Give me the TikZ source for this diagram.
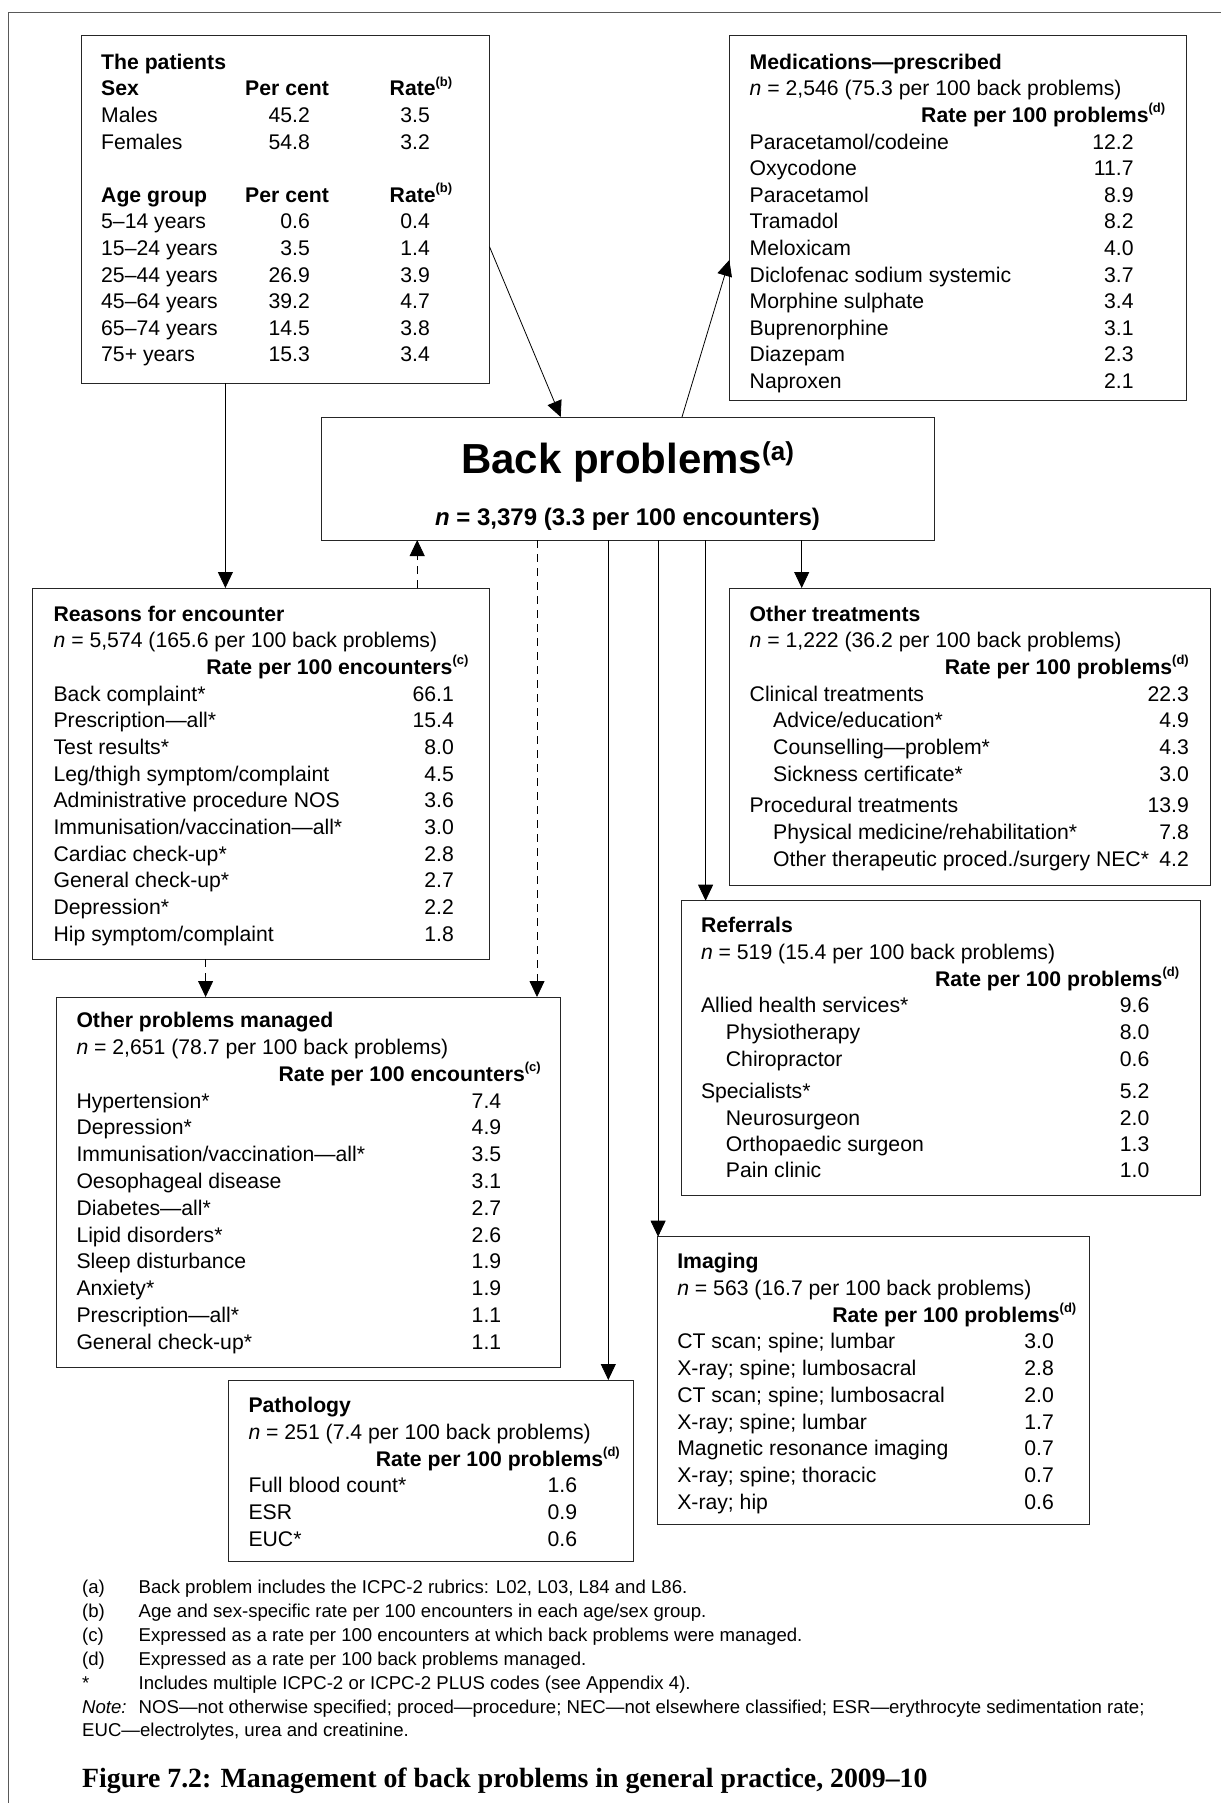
\documentclass[tikz,border=0pt]{standalone}
\usepackage{fontspec}
\setmainfont{Liberation Sans}
\newfontfamily\capfont{Liberation Serif}
\usetikzlibrary{arrows.meta}

\newcommand{\fs}{\fontsize{21.2}{25}\selectfont}
\newcommand{\fnsz}{\fontsize{18.6}{22}\selectfont}
\newcommand{\sps}[1]{\raisebox{9.5pt}{\fontsize{13}{13}\selectfont\bfseries #1}}

\tikzset{
  box/.style={draw=black!85, line width=1pt, fill=white, anchor=north west, inner sep=0pt, outer sep=0pt},
  lt/.style={anchor=base west, inner sep=0pt, font=\fs},
  rt/.style={anchor=base east, inner sep=0pt, font=\fs},
  hd/.style={anchor=base west, inner sep=0pt, font=\fs\bfseries},
  hdr/.style={anchor=base east, inner sep=0pt, font=\fs\bfseries},
  arr/.style={draw=black, line width=0.8pt, -{Triangle[width=15pt,length=16pt]}},
  darr/.style={arr, dash pattern=on 8pt off 6pt},
  fn/.style={anchor=base west, inner sep=0pt, font=\fnsz},
  frame/.style={draw=black!65, line width=1.3pt},
}

\begin{document}
\begin{tikzpicture}[x=1pt,y=-1pt]
\fill[white] (0,0) rectangle (1220,1803);
\useasboundingbox (0,0) rectangle (1220,1803);
\draw[frame] (1222,12.3) -- (8.7,12.3) -- (8.7,1805);

% ---------- boxes ----------
\node[box, minimum width=408.5pt, minimum height=347pt] (pat) at (81,36) {};
\node[box, minimum width=456.7pt, minimum height=364pt] (med) at (729.3,36) {};
\node[box, minimum width=613pt, minimum height=123pt] (back) at (321,417) {};
\node[box, minimum width=456.7pt, minimum height=371pt] (rfe) at (32.8,588) {};
\node[box, minimum width=480.7pt, minimum height=297pt] (treat) at (729.3,588) {};
\node[box, minimum width=504.2pt, minimum height=370pt] (oth) at (56.5,997) {};
\node[box, minimum width=519pt, minimum height=294.3pt] (ref) at (681,900.7) {};
\node[box, minimum width=432.2pt, minimum height=287.6pt] (img) at (657.3,1236.7) {};
\node[box, minimum width=405.1pt, minimum height=181.7pt] (path) at (228.5,1380) {};

% ---------- connectors ----------
\draw[arr] ([yshift=-37.2pt]pat.east) -- ([xshift=239.7pt]back.north west);
\draw[arr] ([xshift=361pt]back.north west) -- ([yshift=-42pt]med.west);
\draw[arr] ([xshift=144.4pt]pat.south west) -- ([xshift=192.6pt]rfe.north west);
\draw[darr] ([xshift=384.4pt]rfe.north west) -- ([xshift=96.2pt]back.south west);
\draw[darr] ([xshift=216pt]back.south west) -- ([xshift=480.5pt]oth.north west);
\draw[darr] ([xshift=172.8pt]rfe.south west) -- ([xshift=149.1pt]oth.north west);
\draw[arr] ([xshift=480.7pt]back.south west) -- ([xshift=72.4pt]treat.north west);
\draw[arr] ([xshift=384.6pt]back.south west) -- ([xshift=24.6pt]ref.north west);
\draw[arr] ([xshift=337.1pt]back.south west) -- ([xshift=0.8pt]img.north west);
\draw[arr] ([xshift=287.3pt]back.south west) -- ([xshift=379.8pt]path.north west);

% ---------- back problems ----------
\node[anchor=base, inner sep=0pt, font=\fontsize{42}{46}\selectfont\bfseries] (back-t) at (627.5,473)
  {Back problems\raisebox{13pt}{\fontsize{26}{26}\selectfont (a)}};
\node[anchor=base, inner sep=0pt, font=\fontsize{24}{28}\selectfont\bfseries] (back-n) at (627.5,525.3)
  {\textit{n} = 3,379 (3.3 per 100 encounters)};

% ---------- the patients ----------
\node[hd] (pat-t) at (101,69.3) {The patients};
\node[hd] (pat-s) at (101,95.9) {Sex};
\node[hd] (pat-sp) at (245,95.9) {Per cent};
\node[hd] (pat-sr) at (389.5,95.9) {Rate\sps{(b)}};
\foreach \a/\b/\c [count=\i] in {Males/45.2/3.5, Females/54.8/3.2} {
  \node[lt] (pat-a\i) at (101,{95.9+26.6*\i}) {\a};
  \node[rt] (pat-b\i) at (310,{95.9+26.6*\i}) {\b};
  \node[rt] (pat-c\i) at (430,{95.9+26.6*\i}) {\c};
}
\node[hd] (pat-g) at (101,202.3) {Age group};
\node[hd] (pat-gp) at (245,202.3) {Per cent};
\node[hd] (pat-gr) at (389.5,202.3) {Rate\sps{(b)}};
\foreach \a/\b/\c [count=\i] in {5–14 years/0.6/0.4, 15–24 years/3.5/1.4, 25–44 years/26.9/3.9,
   45–64 years/39.2/4.7, 65–74 years/14.5/3.8, 75+ years/15.3/3.4} {
  \node[lt] (pat-d\i) at (101,{202.3+26.6*\i}) {\a};
  \node[rt] (pat-e\i) at (310,{202.3+26.6*\i}) {\b};
  \node[rt] (pat-f\i) at (430,{202.3+26.6*\i}) {\c};
}

% ---------- medications ----------
\node[hd] (med-t) at (749.5,69.3) {Medications—prescribed};
\node[lt] (med-n) at (749.5,95.9) {\textit{n} = 2,546 (75.3 per 100 back problems)};
\node[hdr] (med-h) at (1165.4,122.5) {Rate per 100 problems\sps{(d)}};
\foreach \a/\b [count=\i] in {{Paracetamol/codeine}/12.2, Oxycodone/11.7, Paracetamol/8.9, Tramadol/8.2,
   Meloxicam/4.0, Diclofenac sodium systemic/3.7, Morphine sulphate/3.4, Buprenorphine/3.1,
   Diazepam/2.3, Naproxen/2.1} {
  \node[lt] (med-a\i) at (749.5,{149.1+26.6*(\i-1)}) {\a};
  \node[rt] (med-b\i) at (1133.8,{149.1+26.6*(\i-1)}) {\b};
}

% ---------- reasons for encounter ----------
\node[hd] (rfe-t) at (53.4,621) {Reasons for encounter};
\node[lt] (rfe-n) at (53.4,647.7) {\textit{n} = 5,574 (165.6 per 100 back problems)};
\node[hdr] (rfe-h) at (468.6,674.3) {Rate per 100 encounters\sps{(c)}};
\foreach \a/\b [count=\i] in {Back complaint*/66.1, Prescription—all*/15.4, Test results*/8.0,
   {Leg/thigh symptom/complaint}/4.5, Administrative procedure NOS/3.6,
   {Immunisation/vaccination—all*}/3.0, Cardiac check-up*/2.8, General check-up*/2.7,
   Depression*/2.2, {Hip symptom/complaint}/1.8} {
  \node[lt] (rfe-a\i) at (53.4,{701+26.67*(\i-1)}) {\a};
  \node[rt] (rfe-b\i) at (454,{701+26.67*(\i-1)}) {\b};
}

% ---------- other problems managed ----------
\node[hd] (oth-t) at (76.3,1027.6) {Other problems managed};
\node[lt] (oth-n) at (76.3,1054.4) {\textit{n} = 2,651 (78.7 per 100 back problems)};
\node[hdr] (oth-h) at (541,1081.2) {Rate per 100 encounters\sps{(c)}};
\foreach \a/\b [count=\i] in {Hypertension*/7.4, Depression*/4.9, {Immunisation/vaccination—all*}/3.5,
   Oesophageal disease/3.1, Diabetes—all*/2.7, Lipid disorders*/2.6, Sleep disturbance/1.9,
   Anxiety*/1.9, Prescription—all*/1.1, General check-up*/1.1} {
  \node[lt] (oth-a\i) at (76.3,{1108+26.8*(\i-1)}) {\a};
  \node[rt] (oth-b\i) at (501.4,{1108+26.8*(\i-1)}) {\b};
}

% ---------- other treatments ----------
\node[hd] (tr-t) at (749.5,621) {Other treatments};
\node[lt] (tr-n) at (749.5,647.7) {\textit{n} = 1,222 (36.2 per 100 back problems)};
\node[hdr] (tr-h) at (1189,674.3) {Rate per 100 problems\sps{(d)}};
\node[lt] (tr-a1) at (749.5,701) {Clinical treatments};       \node[rt] (tr-b1) at (1189,701) {22.3};
\node[lt] (tr-a2) at (773,727.7) {Advice/education*};          \node[rt] (tr-b2) at (1189,727.7) {4.9};
\node[lt] (tr-a3) at (773,754.4) {Counselling—problem*};       \node[rt] (tr-b3) at (1189,754.4) {4.3};
\node[lt] (tr-a4) at (773,781) {Sickness certificate*};        \node[rt] (tr-b4) at (1189,781) {3.0};
\node[lt] (tr-a5) at (749.5,812.6) {Procedural treatments};    \node[rt] (tr-b5) at (1189,812.6) {13.9};
\node[lt] (tr-a6) at (773,839.3) {Physical medicine/rehabilitation*}; \node[rt] (tr-b6) at (1189,839.3) {7.8};
\node[lt] (tr-a7) at (773,866) {Other therapeutic proced./surgery NEC*}; \node[rt] (tr-b7) at (1189,866) {4.2};

% ---------- referrals ----------
\node[hd] (ref-t) at (700.8,932.6) {Referrals};
\node[lt] (ref-n) at (700.8,959.3) {\textit{n} = 519 (15.4 per 100 back problems)};
\node[hdr] (ref-h) at (1179.3,986) {Rate per 100 problems\sps{(d)}};
\node[lt] (ref-a1) at (700.8,1012.6) {Allied health services*}; \node[rt] (ref-b1) at (1149.6,1012.6) {9.6};
\node[lt] (ref-a2) at (725.7,1039.3) {Physiotherapy};           \node[rt] (ref-b2) at (1149.6,1039.3) {8.0};
\node[lt] (ref-a3) at (725.7,1066) {Chiropractor};             \node[rt] (ref-b3) at (1149.6,1066) {0.6};
\node[lt] (ref-a4) at (700.8,1098.6) {Specialists*};           \node[rt] (ref-b4) at (1149.6,1098.6) {5.2};
\node[lt] (ref-a5) at (725.7,1125) {Neurosurgeon};             \node[rt] (ref-b5) at (1149.6,1125) {2.0};
\node[lt] (ref-a6) at (725.7,1151.4) {Orthopaedic surgeon};    \node[rt] (ref-b6) at (1149.6,1151.4) {1.3};
\node[lt] (ref-a7) at (725.7,1177.6) {Pain clinic};            \node[rt] (ref-b7) at (1149.6,1177.6) {1.0};

% ---------- imaging ----------
\node[hd] (img-t) at (677.1,1268.6) {Imaging};
\node[lt] (img-n) at (677.1,1295.3) {\textit{n} = 563 (16.7 per 100 back problems)};
\node[hdr] (img-h) at (1076.5,1322.1) {Rate per 100 problems\sps{(d)}};
\foreach \a/\b [count=\i] in {CT scan; spine; lumbar/3.0, X-ray; spine; lumbosacral/2.8,
   CT scan; spine; lumbosacral/2.0, X-ray; spine; lumbar/1.7, Magnetic resonance imaging/0.7,
   X-ray; spine; thoracic/0.7, X-ray; hip/0.6} {
  \node[lt] (img-a\i) at (677.1,{1348.8+26.74*(\i-1)}) {\a};
  \node[rt] (img-b\i) at (1054,{1348.8+26.74*(\i-1)}) {\b};
}

% ---------- pathology ----------
\node[hd] (pth-t) at (248.3,1412.6) {Pathology};
\node[lt] (pth-n) at (248.3,1439.3) {\textit{n} = 251 (7.4 per 100 back problems)};
\node[hdr] (pth-h) at (620,1466) {Rate per 100 problems\sps{(d)}};
\foreach \a/\b [count=\i] in {Full blood count*/1.6, ESR/0.9, EUC*/0.6} {
  \node[lt] (pth-a\i) at (248.3,{1492.7+26.7*(\i-1)}) {\a};
  \node[rt] (pth-b\i) at (577.3,{1492.7+26.7*(\i-1)}) {\b};
}

% ---------- footnotes ----------
\node[fn] (fa) at (82,1593.7) {(a)}; \node[fn] (fat) at (138.5,1593.7) {Back problem includes the ICPC-2 rubrics: L02, L03, L84 and L86.};
\node[fn] (fb) at (82,1617.7) {(b)}; \node[fn] (fbt) at (138.5,1617.7) {Age and sex-specific rate per 100 encounters in each age/sex group.};
\node[fn] (fc) at (82,1641.7) {(c)}; \node[fn] (fct) at (138.5,1641.7) {Expressed as a rate per 100 encounters at which back problems were managed.};
\node[fn] (fd) at (82,1665.7) {(d)}; \node[fn] (fdt) at (138.5,1665.7) {Expressed as a rate per 100 back problems managed.};
\node[fn] (fs) at (82,1689.7) {*};   \node[fn] (fst) at (138.5,1689.7) {Includes multiple ICPC-2 or ICPC-2 PLUS codes (see Appendix 4).};
\node[fn] (fn1) at (82,1713) {\textit{Note:}}; \node[fn] (fn1t) at (138.5,1713) {NOS—not otherwise specified; proced—procedure; NEC—not elsewhere classified; ESR—erythrocyte sedimentation rate;};
\node[fn] (fn2) at (82,1736.5) {EUC—electrolytes, urea and creatinine.};

% ---------- caption ----------
\node[anchor=base west, inner sep=0pt, font=\capfont\bfseries\fontsize{27.8}{30}\selectfont] (cap) at (82,1787.5)
  {Figure 7.2: Management of back problems in general practice, 2009–10};
\end{tikzpicture}
\end{document}
